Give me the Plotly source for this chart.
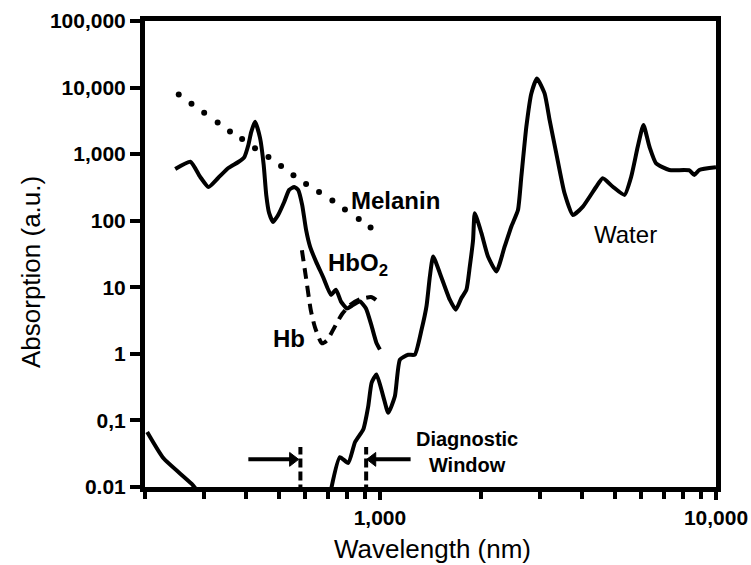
import numpy as np
import plotly.graph_objects as go

# ---------------- data ----------------
# Water absorption (UV part, then NIR/IR part; None = gap below the axis)
water_nm = [203, 227, 275, 300, None,
            715, 760, 805, 843, 892, 923, 945, 977, 1023, 1059, 1108, 1147, 1214, 1270,
            1330, 1376, 1408, 1440, 1508, 1614, 1682, 1748, 1809, 1851, 1893, 1915, 2005,
            2097, 2222, 2351, 2461, 2575, 2635, 2727, 2822, 2933, 3090, 3199, 3348, 3543,
            3751, 4017, 4402, 4604, 4932, 5343, 5593, 5850, 6083, 6339, 6634, 7265, 8332,
            8620, 8920, 10000]
water_abs = [0.067, 0.027, 0.0112, 0.0065, None,
             0.009, 0.028, 0.023, 0.047, 0.073, 0.163, 0.37, 0.49, 0.23, 0.13, 0.23, 0.82, 0.97, 0.97,
             2.3, 5.2, 14.5, 29, 16.3, 6.5, 4.6, 6.9, 9.2, 20.5, 51, 129, 65,
             29, 17.3, 41, 82, 145, 458, 2575, 8160, 13700, 8160, 3245, 1028, 258,
             122, 163, 324, 434, 324, 244, 458, 1291, 2730, 1291, 728, 578, 570,
             486, 578, 634]

# Oxy-haemoglobin (solid)
hbo2_nm = [246, 273, 292, 309, 330, 354, 379, 395, 406, 414, 425, 440, 451, 459, 468, 481,
           498, 519, 537, 556, 571, 587, 603, 620, 646, 677, 715, 740, 766, 798, 826, 872,
           909, 944, 976, 1000]
hbo2_abs = [598, 769, 454, 321, 438, 619, 762, 905, 1369, 2144, 3060, 1742, 687, 244, 131, 96,
            122, 191, 290, 321, 290, 173, 73, 40.5, 24.1, 14.4, 7.7, 9.2, 6.1, 4.8, 5.3, 6.1,
            4.8, 2.65, 1.47, 1.16]

# De-oxy haemoglobin (dashed)
hb_nm = [586, 603, 623, 641, 672, 696, 730, 771, 815, 872, 946, 1000]
hb_abs = [36, 13.7, 4.5, 2.5, 1.44, 1.6, 2.43, 3.94, 5.4, 6.6, 7.1, 5.75]

# Melanin (dotted)
melanin_nm = [252, 275, 300, 329, 358, 389, 425, 466, 508, 553, 603, 659, 722, 787, 865, 938]
melanin_abs = [7880, 5700, 4175, 2978, 2182, 1695, 1221, 905, 663, 481, 356, 270, 201, 148, 106, 79]

# Diagnostic window bounds and marker heights
window_nm = [580, 910]
window_abs = [0.008, 0.04]
# arrows: (tail, head) wavelengths, shared height
arrow_left_nm = [406, 550]
arrow_right_nm = [1234, 952]
arrow_abs = [0.026, 0.026]

# Tick labels
y_tickvals = [0.01, 0.1, 1, 10, 100, 1000, 10000, 100000]
y_ticktext = ["0.01", "0,1", "1", "10", "100", "1,000", "10,000", "100,000"]
x_tickvals = [1000, 10000]
x_ticktext = ["1,000", "10,000"]
x_minor = [200, 300, 400, 500, 600, 700, 800, 900, 2000, 3000, 4000, 5000, 6000, 7000, 8000, 9000]

FONT = "Liberation Sans, Arial, Helvetica, sans-serif"

fig = go.Figure()

fig.add_trace(go.Scatter(x=hb_nm, y=hb_abs, mode="lines",
                         line=dict(color="black", width=4, dash="11px,7px", shape="spline", smoothing=0.6)))
fig.add_trace(go.Scatter(x=hbo2_nm, y=hbo2_abs, mode="lines",
                         line=dict(color="black", width=4, shape="spline", smoothing=0.5)))
fig.add_trace(go.Scatter(x=water_nm, y=water_abs, mode="lines", connectgaps=False,
                         line=dict(color="black", width=4, shape="spline", smoothing=0.5)))
fig.add_trace(go.Scatter(x=melanin_nm, y=melanin_abs, mode="markers",
                         marker=dict(color="black", size=6, symbol="circle")))
for w in window_nm:
    fig.add_trace(go.Scatter(x=[w, w], y=window_abs, mode="lines",
                             line=dict(color="black", width=4, dash="9px,4px")))

# arrows of the diagnostic window
fig.add_trace(go.Scatter(x=arrow_left_nm, y=arrow_abs, mode="lines+markers",
                         line=dict(color="black", width=4),
                         marker=dict(color="black", symbol=["circle", "triangle-right"],
                                     size=[0, 12], opacity=1,
                                     line=dict(width=1, color="black"))))
fig.add_trace(go.Scatter(x=arrow_right_nm, y=arrow_abs, mode="lines+markers",
                         line=dict(color="black", width=4),
                         marker=dict(color="black", symbol=["circle", "triangle-left"],
                                     size=[0, 12], opacity=1,
                                     line=dict(width=1, color="black"))))

def label(text, nm, val, size, bold, xanchor="center"):
    fig.add_annotation(x=np.log10(nm), y=np.log10(val), text=text, showarrow=False,
                       xanchor=xanchor, yanchor="middle",
                       font=dict(family=FONT, size=size, color="black",
                                 weight="bold" if bold else "normal"))

label("Melanin", 1116, 203, 24, True)
label("Water", 5389, 62.7, 24, False)
label("HbO<sub>2</sub>", 691, 22, 24, True, xanchor="left")
label("Hb", 536, 1.71, 24, True)
label("Diagnostic<br>Window", 1814, 0.0333, 20, True)

# axis titles
fig.add_annotation(xref="paper", yref="paper", x=-0.1995, y=0.4615, text="Absorption (a.u.)",
                   textangle=-90, showarrow=False, xanchor="center", yanchor="middle",
                   font=dict(family=FONT, size=26, color="black"))
fig.add_annotation(xref="paper", yref="paper", x=0.504, y=-0.134, text="Wavelength (nm)",
                   showarrow=False, xanchor="center", yanchor="middle",
                   font=dict(family=FONT, size=26, color="black"))

fig.update_layout(
    width=751, height=565,
    margin=dict(l=145, r=35, t=21, b=78),
    plot_bgcolor="white", paper_bgcolor="white",
    showlegend=False,
    font=dict(family=FONT, color="black"),
)
fig.update_xaxes(type="log", range=[np.log10(200), 4], automargin=False,
                 showline=True, linewidth=5, linecolor="black", mirror=True,
                 showgrid=False, zeroline=False,
                 tickmode="array", tickvals=x_tickvals, ticktext=x_ticktext,
                 ticks="outside", ticklen=8, tickwidth=4, tickcolor="black",
                 tickfont=dict(family=FONT, size=21, weight="bold", color="black"),
                 minor=dict(tickmode="array", tickvals=x_minor, ticks="outside", ticklen=7,
                            tickwidth=4, tickcolor="black", showgrid=False))
fig.update_yaxes(type="log", range=[-2, 5], automargin=False,
                 showline=True, linewidth=5, linecolor="black", mirror=True,
                 showgrid=False, zeroline=False,
                 tickmode="array", tickvals=y_tickvals, ticktext=y_ticktext,
                 ticks="outside", ticklen=10, tickwidth=4, tickcolor="black",
                 tickfont=dict(family=FONT, size=21, weight="bold", color="black"))

fig.write_html("out.html", config={"displayModeBar": False},
               post_script="document.body.style.margin='0';document.body.style.overflow='hidden';")
